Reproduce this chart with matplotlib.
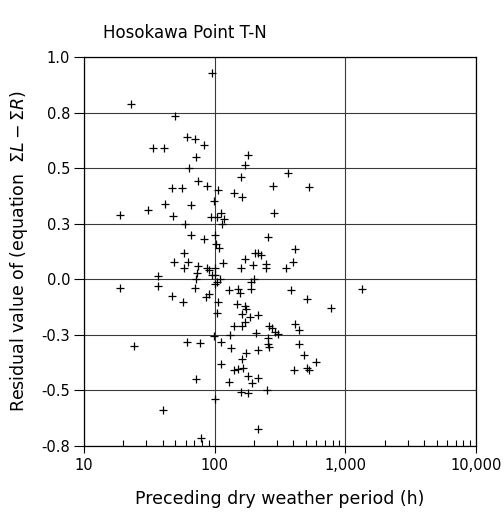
import matplotlib
matplotlib.use("Agg")
import matplotlib.pyplot as plt
from matplotlib.ticker import FixedLocator, NullFormatter
import numpy as np

# ---- data ----
dry_period = [
    95, 23, 50, 34, 41, 61, 71, 83, 72, 64,
    180, 171, 160, 161, 140, 280, 287, 362, 525, 47,
    56, 74, 88, 106, 42, 66, 31, 19, 48, 99,
    93, 105, 111, 118, 114, 59, 66, 83, 101, 102,
    107, 255, 58, 49, 62, 58, 75, 73, 88, 100,
    116, 171, 159, 195, 203, 216, 226, 249, 245, 351,
    400, 410, 37, 90, 95, 100, 104, 109, 100, 72,
    19, 37, 71, 47, 57, 86, 90, 128, 152, 156,
    191, 200, 191, 384, 506, 780, 1350, 106, 105, 147,
    171, 173, 163, 186, 216, 172, 141, 163, 209, 132,
    99, 262, 273, 289, 303, 257, 258, 260, 415, 444,
    441, 482, 593, 404, 506, 526, 61, 77, 24, 111,
    133, 173, 216, 163, 112, 141, 150, 164, 179, 194,
    216, 128, 72, 158, 181, 250, 100, 40, 216, 79,
]
residual = [
    0.93, 0.79, 0.735, 0.59, 0.59, 0.64, 0.63, 0.605, 0.55, 0.50,
    0.56, 0.515, 0.46, 0.37, 0.39, 0.42, 0.30, 0.48, 0.415, 0.41,
    0.41, 0.44, 0.42, 0.40, 0.34, 0.335, 0.31, 0.29, 0.285, 0.35,
    0.28, 0.28, 0.30, 0.27, 0.25, 0.25, 0.20, 0.18, 0.20, 0.16,
    0.14, 0.19, 0.12, 0.08, 0.08, 0.05, 0.06, 0.03, 0.05, 0.05,
    0.075, 0.09, 0.05, 0.065, 0.12, 0.12, 0.11, 0.07, 0.05, 0.05,
    0.08, 0.135, 0.015, 0.04, 0.02, 0.02, -0.01, 0.0, -0.02, 0.0,
    -0.04, -0.03, -0.04, -0.075, -0.10, -0.08, -0.065, -0.05, -0.045, -0.06,
    -0.045, 0.0, -0.01, -0.05, -0.09, -0.13, -0.045, -0.10, -0.15, -0.11,
    -0.12, -0.135, -0.155, -0.17, -0.16, -0.19, -0.21, -0.21, -0.24, -0.25,
    -0.255, -0.21, -0.22, -0.235, -0.245, -0.265, -0.29, -0.305, -0.20, -0.23,
    -0.29, -0.34, -0.37, -0.41, -0.40, -0.41, -0.28, -0.285, -0.30, -0.28,
    -0.31, -0.33, -0.32, -0.36, -0.38, -0.41, -0.405, -0.40, -0.435, -0.465,
    -0.445, -0.46, -0.45, -0.505, -0.51, -0.50, -0.54, -0.59, -0.675, -0.715,
]

xticks = [10, 100, 1000, 10000]
xtick_labels = ["10", "100", "1,000", "10,000"]
yticks = [-0.75, -0.5, -0.25, 0.0, 0.25, 0.5, 0.75, 1.0]
ytick_labels = ["-0.8", "-0.5", "-0.3", "0.0", "0.3", "0.5", "0.8", "1.0"]

fig = plt.figure(figsize=(5.04, 5.14), dpi=100)
ax = fig.add_axes([84 / 504, 1 - 446 / 514, (476 - 84) / 504, (446 - 57) / 514])

ax.scatter(dry_period, residual, marker="+", s=34, c="black", linewidths=0.9, zorder=3)

ax.set_xscale("log")
ax.set_xlim(10, 10000)
ax.set_ylim(-0.75, 1.0)

ax.xaxis.set_major_locator(FixedLocator(xticks))
ax.set_xticklabels(xtick_labels)
ax.xaxis.set_minor_locator(FixedLocator(
    [m * d for d in (10, 100, 1000) for m in range(2, 10)]))
ax.xaxis.set_minor_formatter(NullFormatter())
ax.set_yticks(yticks)
ax.set_yticklabels(ytick_labels)

ax.grid(True, which="major", color="#3a3a3a", linewidth=0.8)
ax.set_axisbelow(True)

ax.tick_params(axis="x", which="major", direction="out", length=5, width=0.8,
               labelsize=10.5, pad=4)
ax.tick_params(axis="x", which="minor", direction="in", length=4, width=0.8)
ax.tick_params(axis="y", which="major", direction="out", length=7, width=0.8,
               labelsize=10.5, pad=3)
for sp in ax.spines.values():
    sp.set_color("black")
    sp.set_linewidth(0.9)

ax.set_xlabel("Preceding dry weather period (h)", fontsize=12.5, labelpad=12)
ax.set_ylabel(r"Residual value of (equation  $\mathit{\Sigma L} - \mathit{\Sigma R}$)",
              fontsize=12.5, labelpad=8)

fig.text(103 / 504, 1 - 33 / 514, "Hosokawa Point T-N", fontsize=12,
         ha="left", va="center")

fig.savefig("out.png", dpi=100)
